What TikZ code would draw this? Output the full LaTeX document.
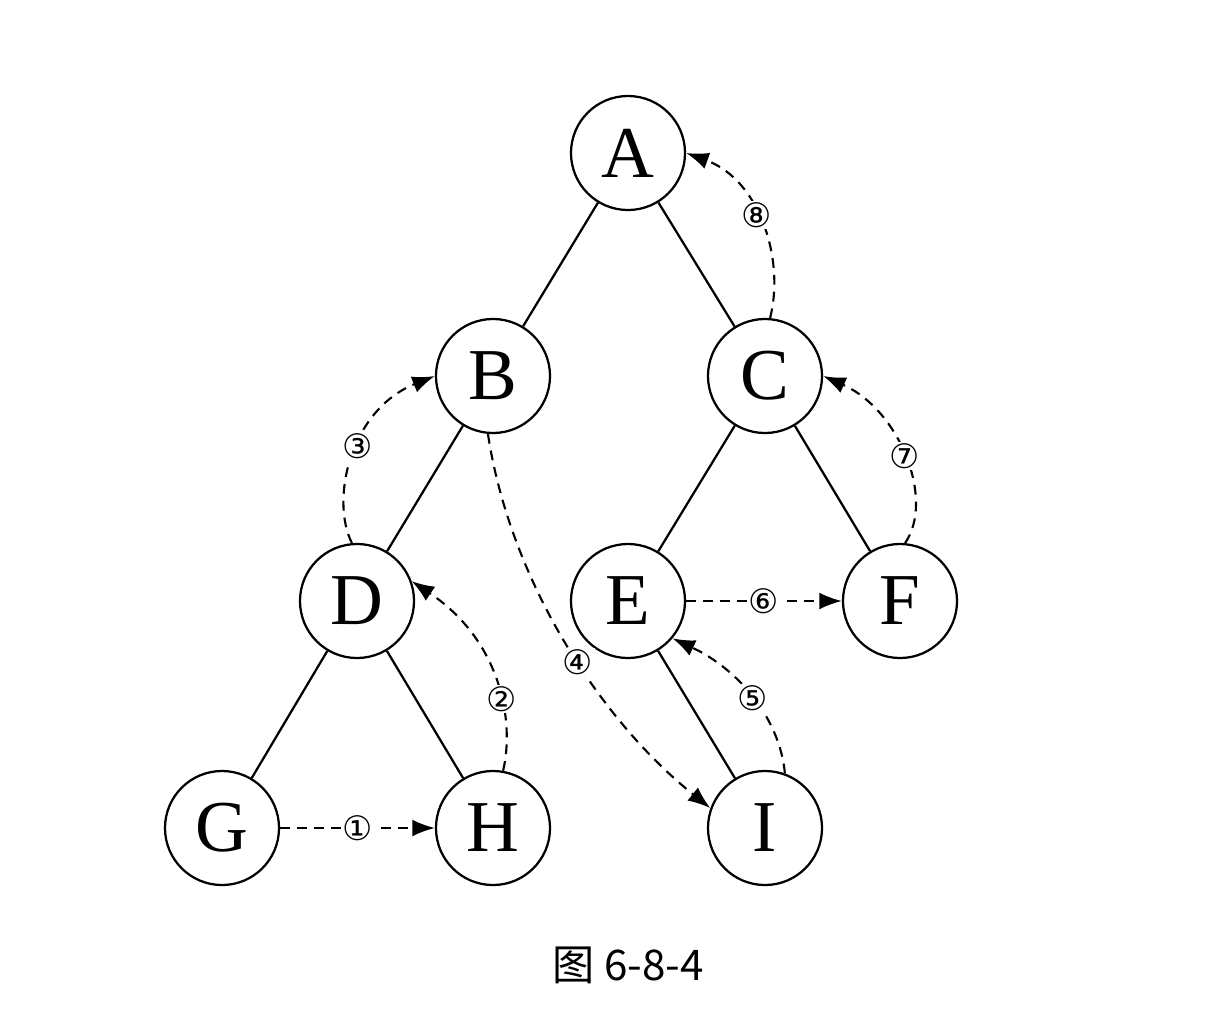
\documentclass[tikz,border=0pt]{standalone}
\usepackage{fontspec}
\setmainfont{Liberation Serif}
\newfontfamily\cjk{Noto Sans CJK SC}
\newfontfamily\djvfont{DejaVu Sans}
\usetikzlibrary{arrows.meta}
\begin{document}
\begin{tikzpicture}[x=0.025cm,y=-0.025cm,
  vtx/.style={circle,draw,line width=1.6pt,minimum size=2.85cm,inner sep=0pt,font=\fontsize{52}{60}\selectfont},
  tree/.style={line width=1.6pt},
  trav/.style={dashed,line width=1.5pt,dash pattern=on 7pt off 5pt,-{Latex[length=16pt,width=12pt]}},
  lab/.style={fill=white,inner sep=1pt,font=\djvfont\fontsize{24}{28}\selectfont}]
\useasboundingbox (0,0) rectangle (1220,1012);
\node[vtx] (A) at (628,153) {A};
\node[vtx] (B) at (493,376) {B};
\node[vtx] (C) at (765,376) {C};
\node[vtx] (D) at (357,601) {D};
\node[vtx] (E) at (628,601) {E};
\node[vtx] (F) at (900,601) {F};
\node[vtx] (G) at (222,828) {G};
\node[vtx] (H) at (493,828) {H};
\node[vtx] (I) at (765,828) {I};
\draw[tree] (A)--(B) (A)--(C) (B)--(D) (C)--(E) (C)--(F) (D)--(G) (D)--(H) (E)--(I);
\draw[trav] (G.east) -- node[lab]{①} (H.west);
\draw[trav] (H.80) .. controls (515,720) and (500,640) .. (D.20) node[lab,pos=0.4]{②};
\draw[trav] (D.95) .. controls (330,500) and (350,410) .. (B.180) node[lab,pos=0.55]{③};
\draw[trav] (B.265) .. controls (510,580) and (600,720) .. (I.160) node[lab,pos=0.55]{④};
\draw[trav] (I.70) .. controls (780,720) and (740,670) .. (E.-40) node[lab,pos=0.5]{⑤};
\draw[trav] (E.east) -- node[lab]{⑥} (F.west);
\draw[trav] (F.85) .. controls (935,500) and (900,410) .. (C.0) node[lab,pos=0.5]{⑦};
\draw[trav] (C.85) .. controls (785,260) and (760,180) .. (A.0) node[lab,pos=0.55]{⑧};
\node[font=\cjk\fontsize{30}{36}\selectfont] (cap) at (628,965) {图 6-8-4};
\end{tikzpicture}
\end{document}
